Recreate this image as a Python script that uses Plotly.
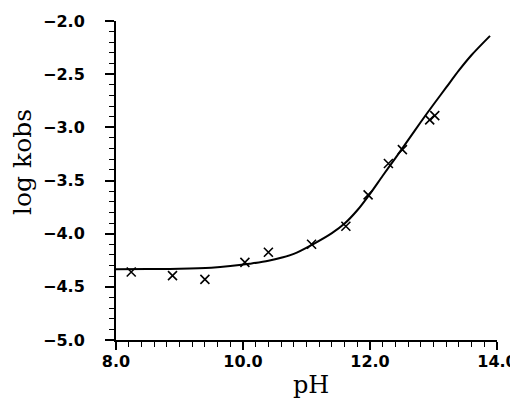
import plotly.graph_objects as go

# measured points
ph_obs = [8.24, 8.89, 9.40, 10.03, 10.40, 11.08, 11.62, 11.97, 12.29, 12.51, 12.94, 13.02]
logk_obs = [-4.36, -4.395, -4.43, -4.27, -4.175, -4.10, -3.93, -3.635, -3.34, -3.21, -2.93, -2.89]

# fitted curve
ph_fit = [8.0, 8.5, 9.0, 9.5, 9.8, 10.1, 10.4, 10.8, 11.1, 11.4, 11.6, 11.8, 12.0,
          12.2, 12.4, 12.6, 12.8, 13.0, 13.2, 13.4, 13.6, 13.89]
logk_fit = [-4.335, -4.333, -4.33, -4.32, -4.305, -4.283, -4.255, -4.19, -4.10, -3.995, -3.905,
            -3.78, -3.625, -3.455, -3.29, -3.12, -2.95, -2.785, -2.625, -2.465, -2.32, -2.14]

x_ticks = [8.0, 10.0, 12.0, 14.0]
x_labels = ["8.0", "10.0", "12.0", "14.0"]
y_ticks = [-5.0, -4.5, -4.0, -3.5, -3.0, -2.5, -2.0]
y_labels = ["\u22125.0", "\u22124.5", "\u22124.0", "\u22123.5", "\u22123.0", "\u22122.5", "\u22122.0"]

OFF = 8  # page body margin
W, H = 518 - OFF, 399 - OFF
ML, MR, MT, MB = 116 - OFF, 21, 21 - OFF, 59
pw, ph = W - ML - MR, H - MT - MB

fig = go.Figure()
fig.add_trace(go.Scatter(x=ph_fit, y=logk_fit, mode="lines",
                         line=dict(color="black", width=2, smoothing=0.8), line_shape="spline",
                         showlegend=False, hoverinfo="skip"))
fig.add_trace(go.Scatter(x=ph_obs, y=logk_obs, mode="markers",
                         marker=dict(symbol="x-thin", size=9, line=dict(color="black", width=1.6)),
                         showlegend=False))

fig.update_xaxes(range=[8.0, 14.0], tickvals=x_ticks, ticktext=x_labels,
                 ticks="outside", ticklen=8, tickwidth=1.5, tickcolor="black",
                 minor=dict(dtick=0.2, tick0=8.0, ticks="outside", ticklen=5, tickwidth=1.2, tickcolor="black"),
                 showline=True, linecolor="black", linewidth=2, showgrid=False, zeroline=False,
                 tickfont=dict(family="DejaVu Sans", size=16, color="black", weight="bold"),
                 ticklabelstandoff=-2, ticklabeloverflow="allow", automargin=False)
fig.update_yaxes(range=[-5.0, -2.0], tickvals=y_ticks, ticktext=y_labels,
                 ticks="outside", ticklen=9, tickwidth=1.5, tickcolor="black",
                 minor=dict(dtick=0.1, tick0=-5.0, ticks="outside", ticklen=5, tickwidth=1.2, tickcolor="black"),
                 showline=True, linecolor="black", linewidth=2, showgrid=False, zeroline=False,
                 tickfont=dict(family="DejaVu Sans", size=16, color="black", weight="bold"),
                 ticklabelstandoff=17, ticklabeloverflow="allow", automargin=False)

# axis titles as annotations at measured positions (page coords minus offset)
fig.add_annotation(text="pH", xref="paper", yref="paper",
                   x=(311 - OFF - ML) / pw, y=(H - MB - (385 - OFF)) / ph, xanchor="center", yanchor="middle",
                   showarrow=False, font=dict(family="DejaVu Serif", size=24, color="black"))
fig.add_annotation(text="log kobs", xref="paper", yref="paper", textangle=-90,
                   x=(22 - OFF - ML) / pw, y=(H - MB - (162 - OFF)) / ph, xanchor="center", yanchor="middle",
                   showarrow=False, font=dict(family="DejaVu Serif", size=25, color="black"))

fig.update_layout(width=W, height=H, margin=dict(l=ML, r=MR, t=MT, b=MB),
                  plot_bgcolor="white", paper_bgcolor="white")
fig.write_html("out.html")
